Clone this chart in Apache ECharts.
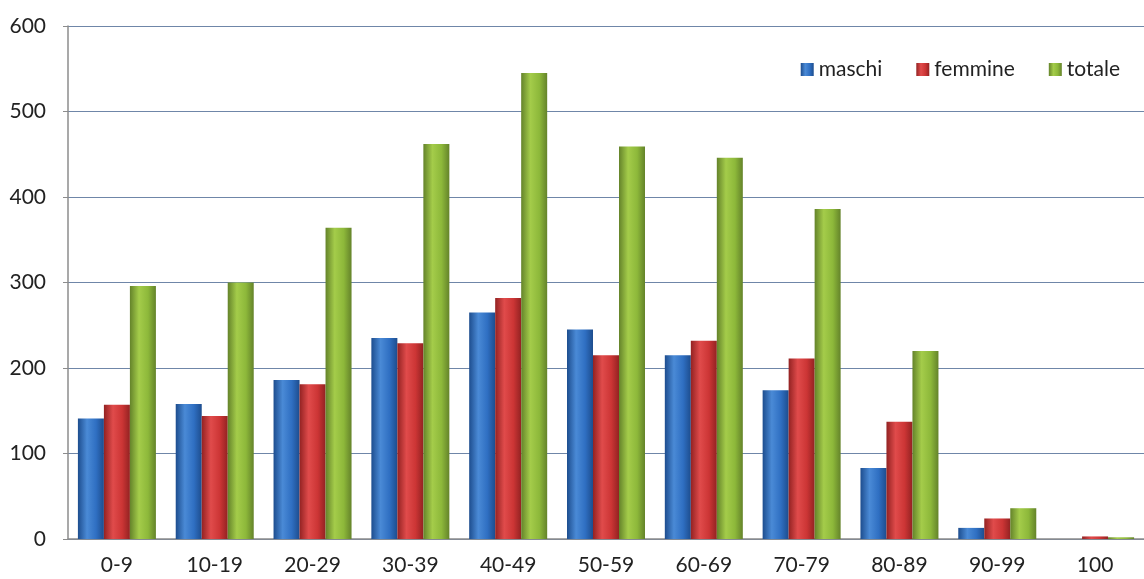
<!DOCTYPE html>
<html>
<head>
<meta charset="utf-8">
<script src="https://cdn.jsdelivr.net/npm/echarts@6/dist/echarts.min.js"></script>
<style>
  html, body { margin: 0; padding: 0; background: #fff; }
  #chart { width: 1144px; height: 579px; }
</style>
</head>
<body>
<div id="chart"></div>
<script>
const categories = ['0-9', '10-19', '20-29', '30-39', '40-49', '50-59', '60-69', '70-79', '80-89', '90-99', '100'];
const maschi = [141, 158, 186, 235, 265, 245, 215, 174, 83, 13, 0];
const femmine = [157, 144, 181, 229, 282, 215, 232, 211, 137, 24, 3];
const totale = [296, 300, 364, 462, 545, 459, 446, 386, 220, 36, 2];

// gradiente orizzontale per simulare le barre "cilindriche"
function shade(dark, mid, light) {
  return new echarts.graphic.LinearGradient(0, 0, 1, 0, [
    { offset: 0, color: dark },
    { offset: 0.35, color: light },
    { offset: 0.7, color: mid },
    { offset: 1, color: dark }
  ]);
}

const font = 'Lato, "Open Sans", sans-serif';

const chart = echarts.init(document.getElementById('chart'));
chart.setOption({
  animation: false,
  textStyle: { fontFamily: font },
  grid: { left: 68, right: 0, top: 26, bottom: 40 },
  legend: {
    top: 54,
    right: 19,
    itemWidth: 13,
    itemHeight: 13,
    itemGap: 34,
    icon: 'rect',
    textStyle: { fontSize: 21, color: '#222', fontFamily: font, padding: [0, 0, 0, 0] }
  },
  xAxis: {
    type: 'category',
    data: categories,
    axisLine: { lineStyle: { color: '#8c8c8c', width: 1.5 } },
    axisTick: { show: false },
    axisLabel: { fontSize: 21, color: '#222', margin: 16 }
  },
  yAxis: {
    type: 'value',
    min: 0,
    max: 600,
    interval: 100,
    axisLine: { show: true, lineStyle: { color: '#8c8c8c', width: 1.5 } },
    axisTick: { show: true, length: 5, lineStyle: { color: '#8c8c8c' } },
    axisLabel: { fontSize: 21, color: '#222', margin: 22 },
    splitLine: { lineStyle: { color: '#6f86a8', width: 1.2 } }
  },
  series: [
    {
      name: 'maschi', type: 'bar', data: maschi,
      barWidth: 26, barGap: '0%',
      itemStyle: { color: shade('#1d4d8e', '#2f6fc2', '#4a8ad6') }
    },
    {
      name: 'femmine', type: 'bar', data: femmine,
      barWidth: 26, barGap: '0%',
      itemStyle: { color: shade('#932222', '#cc3535', '#e04b4b') }
    },
    {
      name: 'totale', type: 'bar', data: totale,
      barWidth: 26, barGap: '0%',
      itemStyle: { color: shade('#64832a', '#8db83a', '#a4cc4a') }
    }
  ]
});
</script>
</body>
</html>
